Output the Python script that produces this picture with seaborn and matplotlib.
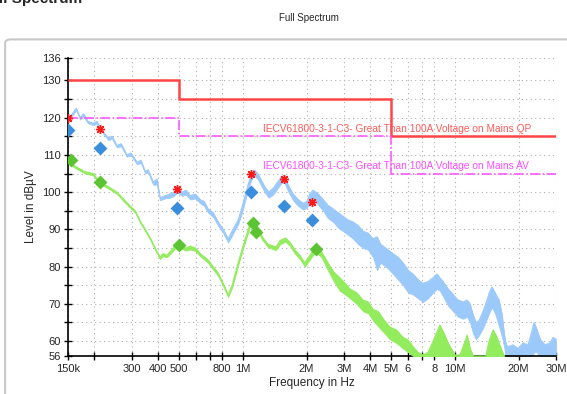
import numpy as np
import pandas as pd
import matplotlib
matplotlib.use("Agg")
import matplotlib.pyplot as plt
import matplotlib.patches as mpatches
import seaborn as sns

# frequencies in MHz, levels in dB
blue_f = [0.150, 0.157, 0.164, 0.171, 0.178, 0.186, 0.197, 0.205, 0.212, 0.221, 0.232, 0.242,
          0.255, 0.267, 0.284, 0.297, 0.317, 0.331, 0.347, 0.358, 0.378, 0.394, 0.407, 0.430,
          0.454, 0.475, 0.490, 0.517, 0.540, 0.566, 0.597, 0.630, 0.657, 0.686, 0.725, 0.765,
          0.808, 0.853, 0.881, 0.919, 0.951, 0.993, 1.025, 1.060, 1.094, 1.130, 1.176, 1.215,
          1.268, 1.324, 1.390, 1.451, 1.516, 1.566, 1.633, 1.727, 1.824, 1.925, 2.010, 2.070,
          2.146, 2.270, 2.392, 2.520, 2.666, 2.810, 2.972, 3.140, 3.313, 3.500, 3.693, 3.900,
          4.116, 4.300, 4.460, 4.588, 4.840, 5.114, 5.400, 5.700, 6.020, 6.354, 6.700, 7.083,
          7.480, 7.895, 8.240, 8.500, 8.800, 9.290, 9.810, 10.36, 10.94, 11.42, 11.79, 12.19,
          12.58, 13.00, 13.59, 14.18, 14.64, 14.97, 15.46, 16.15, 16.70, 17.07, 17.45, 17.84,
          18.82, 19.87, 20.98, 22.15, 22.90, 23.64, 24.40, 25.24, 26.60, 28.10, 29.05, 30.00]
blue_hi = [119.5, 121.0, 122.5, 120.0, 121.0, 119.0, 118.5, 119.0, 117.5, 116.0, 114.5, 115.0,
           112.5, 113.0, 110.0, 110.5, 108.0, 108.5, 105.5, 106.0, 102.7, 103.5, 98.5, 99.0,
           99.5, 100.0, 101.0, 100.0, 100.5, 99.0, 99.5, 98.0, 97.5, 95.5, 94.5, 92.0,
           90.0, 87.5, 89.0, 91.0, 92.5, 96.0, 99.0, 102.0, 104.5, 106.0, 105.0, 103.5,
           101.5, 100.0, 101.0, 102.5, 104.0, 104.5, 102.0, 99.5, 98.0, 97.0, 97.5, 99.5,
           100.5, 99.5, 98.0, 96.5, 95.5, 94.5, 93.5, 92.5, 92.0, 91.0, 89.5, 89.0,
           87.5, 88.0, 86.0, 85.5, 84.5, 83.5, 82.5, 81.0, 79.0, 78.0, 76.5, 75.5,
           76.0, 77.0, 78.0, 77.0, 76.0, 74.0, 72.5, 71.0, 70.5, 71.0, 70.0, 67.0,
           65.0, 65.5, 68.0, 71.0, 73.5, 74.5, 73.0, 71.0, 67.0, 62.0, 59.0, 58.5,
           59.0, 58.0, 59.5, 59.0, 62.0, 65.0, 63.0, 60.5, 59.0, 59.5, 61.0, 60.5]
blue_lo = [119.0, 120.5, 122.0, 119.5, 120.3, 118.5, 118.0, 118.3, 117.0, 115.5, 114.0, 114.3,
           112.0, 112.3, 109.5, 109.8, 107.5, 107.8, 105.0, 105.3, 102.0, 102.0, 97.8, 98.3,
           98.5, 99.0, 100.0, 99.0, 99.3, 98.0, 98.3, 97.0, 96.3, 94.5, 93.3, 91.0,
           89.0, 86.5, 87.8, 89.8, 91.3, 94.5, 97.5, 100.5, 103.0, 104.5, 103.5, 102.0,
           100.0, 98.5, 99.3, 100.8, 102.3, 102.8, 100.3, 97.8, 96.3, 95.3, 95.8, 97.5,
           98.5, 96.5, 95.0, 93.0, 92.0, 90.5, 89.5, 88.5, 87.5, 86.0, 85.0, 84.5,
           82.5, 79.0, 81.0, 80.5, 79.5, 78.0, 76.5, 75.0, 73.0, 72.5, 71.5, 70.5,
           71.5, 73.0, 74.0, 73.5, 72.0, 69.5, 68.0, 66.5, 66.0, 66.5, 65.0, 62.0,
           60.5, 61.5, 63.5, 66.0, 68.0, 69.0, 67.5, 64.0, 61.0, 58.5, 55.0, 55.0,
           55.0, 55.0, 55.0, 55.0, 55.0, 57.0, 57.0, 55.0, 55.0, 55.0, 55.0, 55.0]

green_f = [0.150, 0.157, 0.165, 0.180, 0.197, 0.212, 0.232, 0.255, 0.275, 0.292, 0.311, 0.330,
           0.347, 0.366, 0.386, 0.407, 0.421, 0.439, 0.454, 0.479, 0.500, 0.537, 0.566, 0.597,
           0.630, 0.686, 0.725, 0.765, 0.808, 0.853, 0.891, 0.951, 1.015, 1.083, 1.156, 1.234,
           1.316, 1.434, 1.500, 1.590, 1.670, 1.760, 1.860, 1.960, 2.070, 2.200, 2.350, 2.520,
           2.690, 2.870, 3.040, 3.200, 3.440, 3.690, 3.900, 4.116, 4.340, 4.588, 4.930, 5.300,
           5.700, 6.020, 6.354, 6.700, 7.080, 7.480, 7.900, 8.240, 8.500, 8.900, 9.290, 9.700,
           10.10, 10.60, 11.20, 11.42, 11.80, 12.20, 14.00, 14.50, 15.15, 15.80, 16.50, 17.07,
           17.45]
green_hi = [108.6, 107.5, 106.7, 105.5, 105.0, 102.7, 101.5, 100.0, 98.0, 96.5, 95.0, 92.0,
            90.0, 87.7, 85.0, 82.6, 83.5, 83.0, 84.0, 85.5, 86.0, 85.0, 85.5, 85.0,
            83.5, 81.8, 80.0, 78.3, 75.5, 72.4, 75.0, 81.0, 86.5, 91.7, 91.5, 88.0,
            86.0, 85.3, 87.0, 87.7, 86.5, 84.5, 83.0, 81.0, 83.0, 85.2, 84.0, 81.0,
            78.5, 77.0, 75.5, 74.0, 73.0, 71.0, 70.5, 68.5, 68.0, 66.0, 63.8, 63.0,
            61.0, 60.3, 58.5, 57.0, 56.3, 57.0, 60.0, 62.5, 64.3, 62.0, 59.5, 57.6,
            56.0, 56.5, 60.0, 61.6, 58.0, 56.0, 56.0, 60.0, 63.0, 61.0, 58.0, 56.0,
            55.0]
green_lo = [108.1, 107.0, 106.2, 105.0, 104.5, 102.2, 101.0, 99.5, 97.5, 96.0, 94.5, 91.5,
            89.5, 87.2, 84.5, 82.0, 82.8, 82.5, 83.3, 84.8, 85.3, 84.3, 84.6, 84.2,
            82.8, 81.0, 79.2, 77.5, 74.8, 71.8, 74.3, 80.3, 85.7, 90.8, 90.6, 87.2,
            85.2, 84.4, 86.0, 86.7, 85.5, 83.5, 82.0, 80.0, 81.8, 84.0, 82.5, 79.0,
            76.0, 73.5, 72.5, 71.5, 70.0, 68.0, 67.5, 65.5, 64.0, 62.5, 60.5, 59.5,
            58.0, 57.0, 56.0, 55.0, 55.0, 55.0, 55.0, 55.0, 55.0, 55.0, 55.0, 55.0,
            55.0, 55.0, 55.0, 55.0, 55.0, 55.0, 55.0, 55.0, 55.0, 55.0, 55.0, 55.0,
            55.0]

# final measurement points
peak_f = [0.150, 0.212, 0.490, 1.094, 1.567, 2.120]
peak_lvl = [120.0, 117.0, 100.8, 104.9, 103.5, 97.3]
qp_f = [0.150, 0.212, 0.490, 1.094, 1.567, 2.120]
qp_lvl = [116.7, 111.8, 95.7, 100.0, 96.3, 92.5]
av_f = [0.155, 0.212, 0.500, 1.120, 1.156, 2.220]
av_lvl = [108.6, 102.7, 85.8, 91.7, 89.3, 84.7]

# limit lines
lim_edges = [0.15, 0.5, 5.0, 30.0]
lim_qp = [130, 125, 115]
lim_av = [120, 115, 105]

xticks = [0.15, 0.3, 0.4, 0.5, 0.8, 1, 2, 3, 4, 5, 6, 8, 10, 20, 30]
xtick_labels = ["150k", "300", "400", "500", "800", "1M", "2M", "3M", "4M", "5M",
                "6", "8", "10M", "20M", "30M"]
xminor = [0.2, 0.6, 0.7, 7]

sns.set_style("ticks")
plt.rcParams["font.family"] = ["Liberation Sans", "DejaVu Sans"]

fig = plt.figure(figsize=(5.67, 3.94), dpi=100)
ax = fig.add_axes([0.1199, 0.0964, 0.8607, 0.7563])

# frame around the plot area
fig.patches.append(mpatches.FancyBboxPatch((0.009, -0.05), 1.05, 0.95, boxstyle="round,pad=0,rounding_size=0.01",
                                           transform=fig.transFigure, fill=False, ec="#c8c8c8", lw=1.5, zorder=0))

blue_c = "#9bc9fa"
green_c = "#92ec5e"
ax.fill_between(blue_f, blue_lo, blue_hi, color=blue_c, lw=0.5, ec=blue_c, zorder=2)
sns.lineplot(x=blue_f, y=blue_hi, ax=ax, color=blue_c, lw=0.8, sort=False, estimator=None, zorder=2)
ax.fill_between(green_f, green_lo, green_hi, color=green_c, lw=0.5, ec=green_c, zorder=3)
sns.lineplot(x=green_f, y=green_hi, ax=ax, color=green_c, lw=0.8, sort=False, estimator=None, zorder=3)

ax.stairs(lim_qp, lim_edges, color="#ff4545", lw=1.8, baseline=None, zorder=4)
ax.stairs(lim_av, lim_edges, color="#ff4cff", lw=1.1, ls="-.", baseline=None, zorder=4)

ax.text(1.25, 115.7, "IECV61800-3-1-C3- Great Than 100A Voltage on Mains QP", color="#ff5a5a",
        fontsize=7.3, va="bottom", ha="left", zorder=5)
ax.text(1.25, 105.6, "IECV61800-3-1-C3- Great Than 100A Voltage on Mains AV", color="#ff4cff",
        fontsize=7.3, va="bottom", ha="left", zorder=5)

sns.scatterplot(x=qp_f, y=qp_lvl, ax=ax, marker="D", s=50, color="#3a8edb", edgecolor="#3a8edb", lw=0, zorder=6)
sns.scatterplot(x=av_f, y=av_lvl, ax=ax, marker="D", s=50, color="#5cc432", edgecolor="#5cc432", lw=0, zorder=6)
ax.plot(peak_f, peak_lvl, ls="none", marker=(8, 2, 0), ms=6.5, mew=1.0, color="#ff1a1a", zorder=7)

ax.set_xscale("log")
ax.set_xlim(0.15, 30)
ax.set_ylim(56, 136)
ax.set_xticks(xticks)
ax.set_xticklabels(xtick_labels)
ax.set_xticks(xminor, minor=True)
ax.set_yticks([56, 60, 70, 80, 90, 100, 110, 120, 130, 136])
ax.set_yticks([65, 75, 85, 95, 105, 115, 125], minor=True)
ax.tick_params(axis="both", which="both", direction="inout", length=6, width=1, color="black",
               labelsize=8, pad=2)
ax.tick_params(axis="x", which="major", pad=3)
ax.grid(True, which="both", ls=(0, (1, 3)), color="#b0b0b0", lw=0.8)
for s in ["top", "right"]:
    ax.spines[s].set_visible(False)
for s in ["left", "bottom"]:
    ax.spines[s].set_linewidth(1.2)
    ax.spines[s].set_color("black")
ax.set_axisbelow(True)

ax.set_xlabel("Frequency in Hz", fontsize=8.5, labelpad=2)
ax.set_ylabel("Level in dBµV", fontsize=8.5, labelpad=4)

fig.text(0.545, 0.955, "Full Spectrum", fontsize=7, ha="center", va="center")
fig.text(-0.035, 0.992, "Full Spectrum", fontsize=11, fontweight="bold", ha="left", va="baseline")

fig.savefig("out.png", dpi=100)
